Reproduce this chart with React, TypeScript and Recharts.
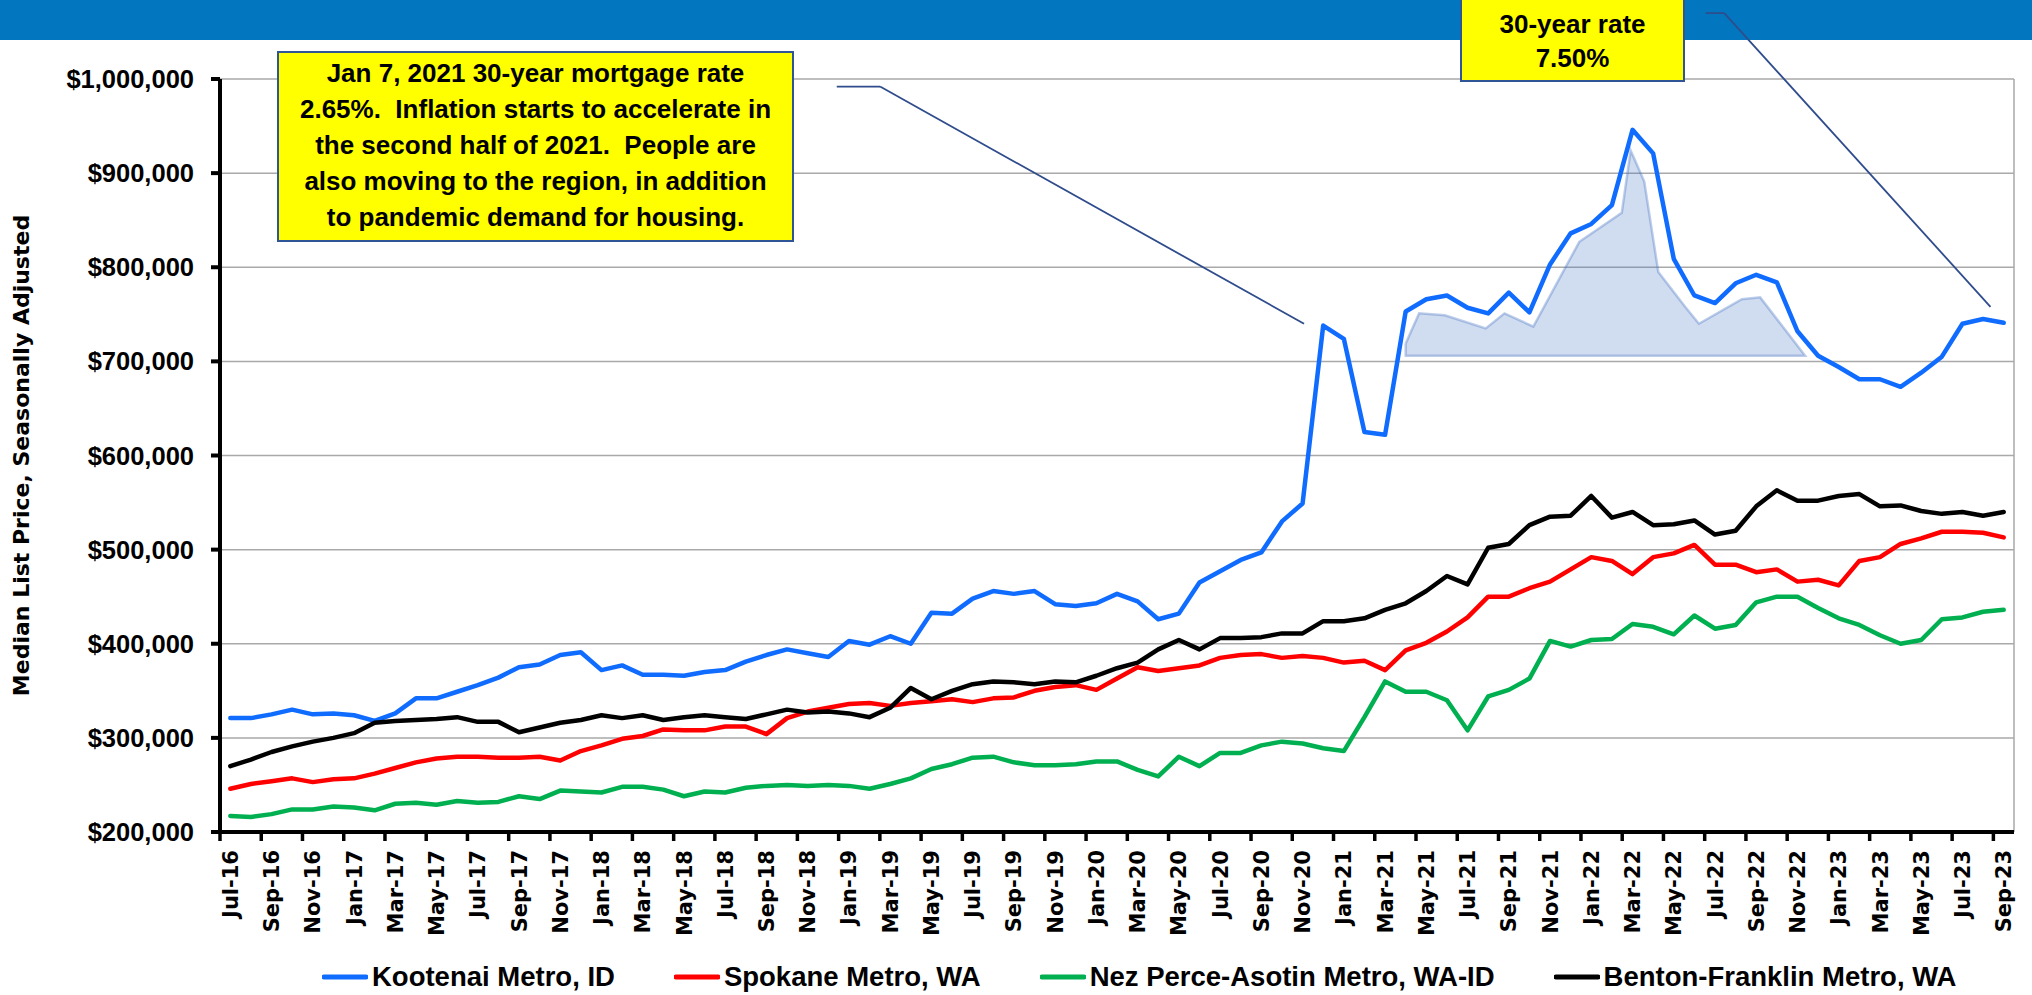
import React from 'react';
import {
  ComposedChart,
  Line,
  Area,
  XAxis,
  YAxis,
  CartesianGrid,
  Legend,
  ReferenceLine,
} from 'recharts';

// ---------- categories ----------
const months = [
  'Jul-16', 'Aug-16', 'Sep-16', 'Oct-16', 'Nov-16', 'Dec-16',
  'Jan-17', 'Feb-17', 'Mar-17', 'Apr-17', 'May-17', 'Jun-17', 'Jul-17', 'Aug-17', 'Sep-17', 'Oct-17', 'Nov-17', 'Dec-17',
  'Jan-18', 'Feb-18', 'Mar-18', 'Apr-18', 'May-18', 'Jun-18', 'Jul-18', 'Aug-18', 'Sep-18', 'Oct-18', 'Nov-18', 'Dec-18',
  'Jan-19', 'Feb-19', 'Mar-19', 'Apr-19', 'May-19', 'Jun-19', 'Jul-19', 'Aug-19', 'Sep-19', 'Oct-19', 'Nov-19', 'Dec-19',
  'Jan-20', 'Feb-20', 'Mar-20', 'Apr-20', 'May-20', 'Jun-20', 'Jul-20', 'Aug-20', 'Sep-20', 'Oct-20', 'Nov-20', 'Dec-20',
  'Jan-21', 'Feb-21', 'Mar-21', 'Apr-21', 'May-21', 'Jun-21', 'Jul-21', 'Aug-21', 'Sep-21', 'Oct-21', 'Nov-21', 'Dec-21',
  'Jan-22', 'Feb-22', 'Mar-22', 'Apr-22', 'May-22', 'Jun-22', 'Jul-22', 'Aug-22', 'Sep-22', 'Oct-22', 'Nov-22', 'Dec-22',
  'Jan-23', 'Feb-23', 'Mar-23', 'Apr-23', 'May-23', 'Jun-23', 'Jul-23', 'Aug-23', 'Sep-23',
];

// ---------- series values (thousands of dollars) ----------
const kootenai = [
  321, 321, 325, 330, 325, 326, 324, 318, 326, 342, 342, 349, 356, 364, 375, 378, 388, 391,
  372, 377, 367, 367, 366, 370, 372, 381, 388, 394, 390, 386, 403, 399, 408, 400, 433, 432,
  448, 456, 453, 456, 442, 440, 443, 453, 445, 426, 432, 465, 477, 489, 497, 530, 549, 738,
  724, 625, 622, 753, 766, 770, 757, 751, 773, 752, 803, 836, 846, 866, 946, 921, 809, 770,
  762, 783, 792, 784, 732, 706, 694, 681, 681, 673, 688, 705, 740, 745, 741,
];
const spokane = [
  246, 251, 254, 257, 253, 256, 257, 262, 268, 274, 278, 280, 280, 279, 279, 280, 276, 286,
  292, 299, 302, 309, 308, 308, 312, 312, 304, 321, 328, 332, 336, 337, 334, 337, 339, 341,
  338, 342, 343, 350, 354, 356, 351, 363, 375, 371, 374, 377, 385, 388, 389, 385, 387, 385,
  380, 382, 372, 393, 401, 413, 428, 450, 450, 459, 466, 479, 492, 488, 474, 492, 496, 505,
  484, 484, 476, 479, 466, 468, 462, 488, 492, 506, 512, 519, 519, 518, 513,
];
const nezPerce = [
  217, 216, 219, 224, 224, 227, 226, 223, 230, 231, 229, 233, 231, 232, 238, 235, 244, 243,
  242, 248, 248, 245, 238, 243, 242, 247, 249, 250, 249, 250, 249, 246, 251, 257, 267, 272,
  279, 280, 274, 271, 271, 272, 275, 275, 266, 259, 280, 270, 284, 284, 292, 296, 294, 289,
  286, 322, 360, 349, 349, 340, 308, 344, 351, 363, 403, 397, 404, 405, 421, 418, 410, 430,
  416, 420, 444, 450, 450, 438, 427, 420, 409, 400, 404, 426, 428, 434, 436,
];
const bentonFranklin = [
  270, 277, 285, 291, 296, 300, 305, 316, 318, 319, 320, 322, 317, 317, 306, 311, 316, 319,
  324, 321, 324, 319, 322, 324, 322, 320, 325, 330, 327, 328, 326, 322, 332, 353, 341, 350,
  357, 360, 359, 357, 360, 359, 366, 374, 380, 394, 404, 394, 406, 406, 407, 411, 411, 424,
  424, 427, 436, 443, 456, 472, 463, 502, 506, 526, 535, 536, 557, 534, 540, 526, 527, 531,
  516, 520, 546, 563, 552, 552, 557, 559, 546, 547, 541, 538, 540, 536, 540,
];

// shaded highlight shape (month index position, value in thousands)
const shadeX = [57.0, 57.65, 58.9, 60.88, 61.79, 63.19, 65.42, 67.48, 67.91, 68.57, 69.25, 70.55, 71.22, 73.3, 74.19, 76.37];
const shadeV = [719, 751, 749, 735, 751, 737, 827, 858, 924, 891, 795, 758, 740, 766, 768, 706];
const shadeBase = 706;

// callout connector lines (month index position, value in thousands)
const callout1X = [29.41, 31.51, 52.07];
const callout1V = [992, 992, 740];
const callout2X = [71.55, 72.45, 85.36];
const callout2V = [1070, 1070, 758];

// ---------- ticks ----------
const yTicks = [200, 300, 400, 500, 600, 700, 800, 900, 1000];
const labelTicks = months.map((_, i) => i).filter((i) => i % 2 === 0);
const gridValues = labelTicks.map((i) => i - 0.5);
const allXTicks = [...gridValues, ...labelTicks].sort((a, b) => a - b);

// ---------- styles ----------
const series = [
  { key: 'kootenai', name: 'Kootenai Metro, ID', color: '#106CFF' },
  { key: 'spokane', name: 'Spokane Metro, WA', color: '#FF0000' },
  { key: 'nezPerce', name: 'Nez Perce-Asotin Metro, WA-ID', color: '#00B050' },
  { key: 'bentonFranklin', name: 'Benton-Franklin Metro, WA', color: '#000000' },
];
const SANS = "'Liberation Sans', Arial, Helvetica, sans-serif";
const VERD = "'DejaVu Sans', Verdana, sans-serif";
const CALLOUT = '#2F4C8C';

const rows = months.map((m, i) => ({
  x: i,
  label: m,
  kootenai: kootenai[i],
  spokane: spokane[i],
  nezPerce: nezPerce[i],
  bentonFranklin: bentonFranklin[i],
}));
const shadeRows = shadeX.map((x, i) => ({ x, v: shadeV[i] }));
const shadeOutline = [...shadeRows, { x: shadeX[0], v: shadeBase }, shadeRows[0]];

const fmtDollar = (v: number) => '$' + Math.round(v * 1000).toLocaleString('en-US');

function XTick(props: any) {
  const { x, y, payload } = props;
  const v = Number(payload.value);
  if (!Number.isInteger(v)) {
    return <line x1={x} y1={y} x2={x} y2={y + 9} stroke="#000" strokeWidth={3.5} />;
  }
  const ty = y + 18;
  return (
    <text
      x={x}
      y={ty}
      transform={`rotate(-90 ${x} ${ty})`}
      textAnchor="end"
      dy="0.36em"
      style={{ fontFamily: VERD, fontWeight: 700, fontSize: 21 }}
      fill="#000"
    >
      {months[v]}
    </text>
  );
}

function YTitle(props: any) {
  const vb = props.viewBox || { x: 0, y: 79, width: 220, height: 753 };
  const cx = vb.x + 29;
  const cy = vb.y + vb.height / 2;
  return (
    <text
      x={cx}
      y={cy}
      transform={`rotate(-90 ${cx} ${cy})`}
      textAnchor="middle"
      style={{ fontFamily: VERD, fontWeight: 700, fontSize: 22 }}
      fill="#000"
    >
      Median List Price, Seasonally Adjusted
    </text>
  );
}

function LegendContent(props: any) {
  const payload = props.payload || [];
  const items = series
    .map((s) => {
      const p = payload.find((e: any) => e.value === s.name);
      return { name: s.name, color: p && p.color ? p.color : s.color };
    });
  return (
    <div
      style={{
        height: 36,
        display: 'flex',
        alignItems: 'center',
        paddingLeft: 322,
        fontFamily: SANS,
        fontWeight: 700,
        fontSize: 27.5,
        color: '#000',
        whiteSpace: 'nowrap',
      }}
    >
      {items.map((it) => (
        <div key={it.name} style={{ display: 'flex', alignItems: 'center', marginRight: 59 }}>
          <svg width={46} height={8} style={{ display: 'block' }}>
            <line x1={2} y1={4} x2={44} y2={4} stroke={it.color} strokeWidth={5} strokeLinecap="round" />
          </svg>
          <span style={{ marginLeft: 4 }}>{it.name}</span>
        </div>
      ))}
    </div>
  );
}

const boxText: React.CSSProperties = {
  fontFamily: SANS,
  fontWeight: 700,
  fontSize: 26,
  color: '#000',
  textAlign: 'center',
  whiteSpace: 'pre',
};

export default function App() {
  return (
    <div
      style={{
        position: 'absolute',
        left: 0,
        top: 0,
        width: 2032,
        height: 995,
        background: '#FFFFFF',
        overflow: 'hidden',
      }}
    >
      <div style={{ position: 'absolute', left: 0, top: 0, width: 2032, height: 40, background: '#0277BF' }} />
      <div style={{ position: 'absolute', left: 0, top: 0 }}>
        <ComposedChart width={2032} height={995} data={rows} margin={{ top: 79, right: 18, left: 0, bottom: 0 }}>
          <XAxis
            xAxisId="grid"
            orientation="top"
            type="number"
            dataKey="x"
            domain={[-0.5, 86.5]}
            ticks={gridValues}
            interval={0}
            height={0}
            tick={false}
            tickLine={false}
            axisLine={false}
          />
          <CartesianGrid xAxisId="grid" stroke="#A9A9A9" strokeWidth={1.5} />
          <XAxis
            type="number"
            dataKey="x"
            domain={[-0.5, 86.5]}
            ticks={allXTicks}
            interval={0}
            height={127}
            tickSize={0}
            tickMargin={0}
            tickLine={false}
            axisLine={{ stroke: '#000', strokeWidth: 4 }}
            tick={<XTick />}
          />
          <YAxis
            type="number"
            domain={[200, 1000]}
            ticks={yTicks}
            interval={0}
            width={220}
            tickSize={9}
            tickMargin={17}
            axisLine={{ stroke: '#000', strokeWidth: 4 }}
            tickLine={{ stroke: '#000', strokeWidth: 4 }}
            tick={{ fill: '#000', fontSize: 25.5, fontWeight: 700, fontFamily: SANS }}
            tickFormatter={fmtDollar}
            label={(p: any) => <YTitle {...p} />}
          />
          <Area
            data={shadeRows}
            dataKey="v"
            type="linear"
            baseValue={shadeBase}
            fill="#4472C4"
            fillOpacity={0.25}
            stroke="none"
            legendType="none"
            isAnimationActive={false}
            dot={false}
            activeDot={false}
          />
          <Line
            data={shadeOutline}
            dataKey="v"
            type="linear"
            stroke="#4472C4"
            strokeOpacity={0.35}
            strokeWidth={2.5}
            legendType="none"
            dot={false}
            activeDot={false}
            isAnimationActive={false}
          />
          {series.map((s) => (
            <Line
              key={s.key}
              dataKey={s.key}
              name={s.name}
              type="linear"
              stroke={s.color}
              strokeWidth={4.5}
              strokeLinejoin="round"
              strokeLinecap="round"
              dot={false}
              activeDot={false}
              isAnimationActive={false}
            />
          ))}
          <ReferenceLine
            segment={[{ x: callout1X[0], y: callout1V[0] }, { x: callout1X[1], y: callout1V[1] }]}
            stroke={CALLOUT}
            strokeWidth={1.8}
            ifOverflow="visible"
          />
          <ReferenceLine
            segment={[{ x: callout1X[1], y: callout1V[1] }, { x: callout1X[2], y: callout1V[2] }]}
            stroke={CALLOUT}
            strokeWidth={1.8}
            ifOverflow="visible"
          />
          <ReferenceLine
            segment={[{ x: callout2X[0], y: callout2V[0] }, { x: callout2X[1], y: callout2V[1] }]}
            stroke={CALLOUT}
            strokeWidth={1.8}
            ifOverflow="visible"
          />
          <ReferenceLine
            segment={[{ x: callout2X[1], y: callout2V[1] }, { x: callout2X[2], y: callout2V[2] }]}
            stroke={CALLOUT}
            strokeWidth={1.8}
            ifOverflow="visible"
          />
          <Legend verticalAlign="bottom" content={<LegendContent />} />
        </ComposedChart>
      </div>
      <div
        style={{
          position: 'absolute',
          left: 277,
          top: 51,
          width: 517,
          height: 191,
          boxSizing: 'border-box',
          background: '#FFFF00',
          border: '2px solid #2F5597',
          display: 'flex',
          flexDirection: 'column',
          justifyContent: 'center',
          paddingBottom: 4,
          lineHeight: '36px',
          ...boxText,
        }}
      >
        <div>Jan 7, 2021 30-year mortgage rate</div>
        <div>2.65%.  Inflation starts to accelerate in</div>
        <div>the second half of 2021.  People are</div>
        <div>also moving to the region, in addition</div>
        <div>to pandemic demand for housing.</div>
      </div>
      <div
        style={{
          position: 'absolute',
          left: 1460,
          top: -3,
          width: 225,
          height: 85,
          boxSizing: 'border-box',
          background: '#FFFF00',
          border: '2px solid #2F5597',
          display: 'flex',
          flexDirection: 'column',
          justifyContent: 'center',
          paddingTop: 2,
          lineHeight: '34px',
          ...boxText,
        }}
      >
        <div>30-year rate</div>
        <div>7.50%</div>
      </div>
    </div>
  );
}
